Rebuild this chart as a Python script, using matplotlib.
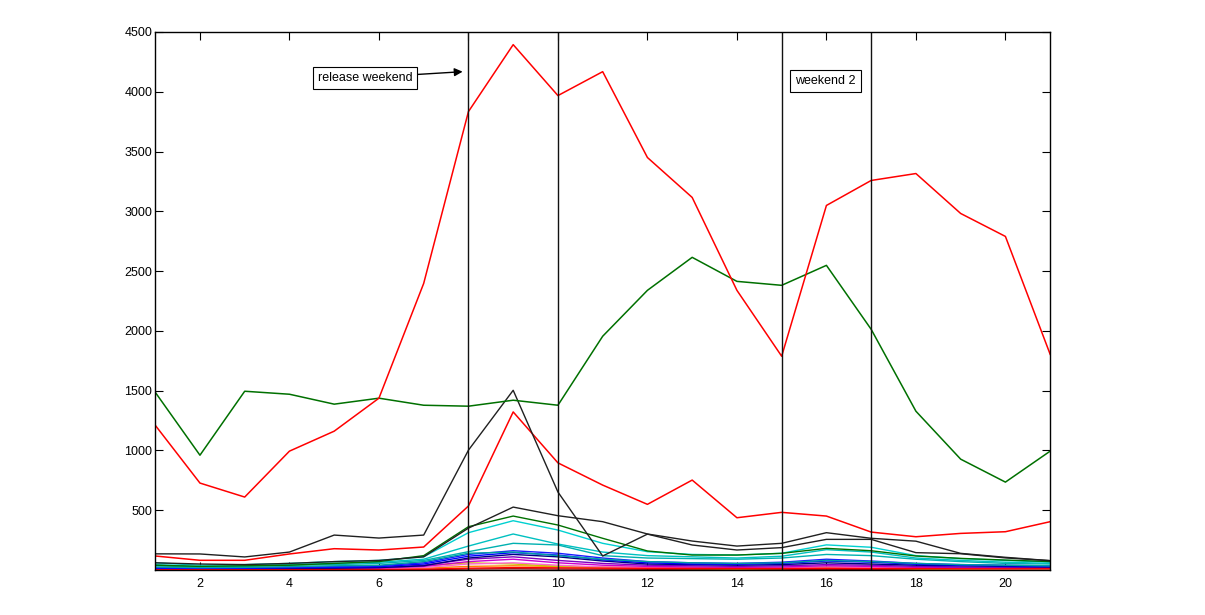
import matplotlib
matplotlib.use('Agg')
import matplotlib.pyplot as plt
import numpy as np

plt.rcParams['font.family'] = ['Liberation Sans', 'DejaVu Sans']

# weeks / days on the x axis
days = np.arange(1, 22)

# the two big series
red_main = [1211, 727, 610, 994, 1161, 1437, 2397, 3834, 4394, 3968, 4168,
            3450, 3116, 2339, 1788, 3049, 3258, 3316, 2982, 2790, 1804]
green_main = [1487, 960, 1495, 1470, 1387, 1437, 1378, 1370, 1420, 1378, 1955,
              2339, 2615, 2414, 2381, 2548, 2013, 1328, 927, 735, 994]

# mid-size series
black_spike = [135, 134, 109, 150, 292, 267, 292, 1002, 1503, 652, 117,
               300, 209, 167, 187, 256, 256, 145, 136, 101, 78]
black_second = [60, 50, 45, 55, 70, 80, 110, 350, 526, 454, 404,
                301, 242, 200, 223, 312, 265, 241, 139, 106, 78]
red_second = [117, 81, 81, 134, 178, 167, 192, 535, 1322, 896, 710,
              549, 752, 437, 482, 451, 317, 278, 306, 320, 404]
green_second = [40, 30, 35, 40, 55, 70, 120, 362, 451, 376, 265,
                159, 125, 125, 139, 181, 161, 117, 97, 83, 70]

# the bundle near the bottom
cyan_1 = [60, 40, 45, 55, 70, 80, 110, 312, 412, 334, 223,
          153, 130, 125, 140, 210, 190, 120, 95, 80, 65]
cyan_2 = [45, 30, 35, 45, 55, 65, 90, 200, 301, 217, 150,
          120, 110, 100, 115, 170, 150, 100, 80, 65, 55]
cyan_3 = [35, 25, 30, 40, 45, 55, 80, 153, 223, 209, 120,
          100, 95, 90, 100, 130, 120, 90, 70, 55, 50]
teal = [25, 20, 22, 28, 35, 40, 70, 140, 150, 120, 90,
        70, 60, 55, 60, 80, 70, 55, 45, 40, 35]
blue_1 = [20, 15, 18, 22, 28, 35, 60, 130, 161, 140, 100,
          70, 60, 55, 65, 90, 75, 55, 45, 40, 35]
blue_2 = [15, 12, 14, 18, 22, 28, 50, 115, 145, 125, 85,
          60, 50, 48, 55, 75, 65, 48, 40, 35, 30]
navy = [10, 8, 10, 12, 15, 20, 35, 100, 130, 110, 75,
        50, 45, 40, 45, 60, 50, 40, 35, 30, 25]
purple = [12, 10, 10, 12, 15, 20, 40, 90, 110, 80, 55,
          40, 35, 30, 35, 45, 40, 30, 25, 22, 20]
magenta = [8, 6, 8, 10, 12, 15, 30, 70, 90, 60, 40,
           30, 25, 22, 25, 35, 30, 22, 20, 18, 15]
pink = [5, 4, 5, 6, 8, 10, 20, 50, 60, 40, 25,
        20, 18, 15, 18, 25, 20, 15, 12, 10, 10]
yellow = [5, 5, 6, 8, 10, 12, 35, 60, 50, 30, 20,
          15, 12, 10, 12, 20, 15, 10, 8, 8, 6]
orange = [3, 3, 4, 5, 6, 8, 15, 30, 35, 30, 25,
          20, 15, 12, 15, 25, 20, 12, 10, 8, 6]
red_low = [2, 2, 2, 3, 3, 4, 6, 15, 20, 18, 15,
           14, 13, 12, 12, 14, 12, 12, 10, 10, 10]
darkred = [1, 1, 1, 2, 2, 2, 3, 8, 10, 8, 7,
           6, 6, 5, 5, 6, 5, 5, 5, 4, 4]

weekend_lines = [8, 10, 15, 17]

x_ticks = list(range(2, 21, 2))
y_ticks = list(range(500, 4501, 500))

fig = plt.figure(figsize=(12.05, 6.15), dpi=100)
ax = fig.add_axes([0.1288, 0.0732, 0.7427, 0.8748])

bundle = [
    (darkred, '#8b0000'), (orange, '#ff8000'),
    (yellow, '#c8c800'), (pink, '#ff66cc'), (magenta, '#cc00cc'),
    (purple, '#8000c0'), (navy, '#000080'), (blue_2, '#0000ff'),
    (blue_1, '#1a1aff'), (teal, '#00a0a0'), (cyan_3, '#00b0b0'),
    (cyan_2, '#00c0c0'), (cyan_1, '#00d0d0'), (red_low, '#ff0000'),
]
for vals, col in bundle:
    ax.plot(days, vals, color=col, lw=1.0)

ax.plot(days, green_second, color='#007000', lw=1.0)
ax.plot(days, black_second, color='#202020', lw=1.0)
ax.plot(days, red_second, color='#ff0000', lw=1.1)
ax.plot(days, black_spike, color='#202020', lw=1.0)
ax.plot(days, green_main, color='#007000', lw=1.1)
ax.plot(days, red_main, color='#ff0000', lw=1.1)

for xv in weekend_lines:
    ax.axvline(xv, color='#111111', lw=1.0)

ax.set_xlim(1, 21)
ax.set_ylim(0, 4500)
ax.set_xticks(x_ticks)
ax.set_yticks(y_ticks)
ax.tick_params(direction='in', top=True, right=True, length=6, width=0.8,
               labelsize=9)
ax.tick_params(axis='y', pad=2)
ax.tick_params(axis='x', pad=6)
for sp in ax.spines.values():
    sp.set_linewidth(1.0)

ax.annotate('release weekend', xy=(7.87, 4168), xytext=(5.69, 4118),
            ha='center', va='center', fontsize=9,
            bbox=dict(boxstyle='square,pad=0.4', fc='white', ec='black', lw=0.8),
            arrowprops=dict(arrowstyle='-|>', color='black', lw=1.0,
                            shrinkA=0, shrinkB=0, mutation_scale=12))
ax.text(15.98, 4093, 'weekend 2', ha='center', va='center', fontsize=9,
        bbox=dict(boxstyle='square,pad=0.4', fc='white', ec='black', lw=0.8))

fig.savefig('out.png', dpi=100)
